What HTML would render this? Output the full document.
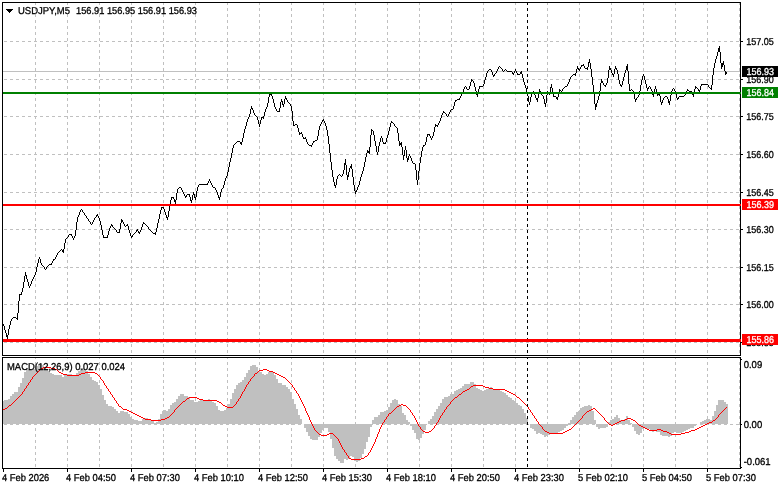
<!DOCTYPE html>
<html><head><meta charset="utf-8"><title>USDJPY,M5</title>
<style>html,body{margin:0;padding:0;background:#fff;overflow:hidden}body{width:781px;height:489px}</style>
</head><body>
<svg width="781" height="489" viewBox="0 0 781 489" style="display:block">
<rect x="0" y="0" width="781" height="489" fill="#fff"/>
<g stroke="#c0c0c0" stroke-width="1" stroke-dasharray="3 3" shape-rendering="crispEdges" fill="none">
<line x1="35.5" y1="2" x2="35.5" y2="468"/>
<line x1="67.5" y1="2" x2="67.5" y2="468"/>
<line x1="99.5" y1="2" x2="99.5" y2="468"/>
<line x1="131.5" y1="2" x2="131.5" y2="468"/>
<line x1="163.5" y1="2" x2="163.5" y2="468"/>
<line x1="195.5" y1="2" x2="195.5" y2="468"/>
<line x1="227.5" y1="2" x2="227.5" y2="468"/>
<line x1="259.5" y1="2" x2="259.5" y2="468"/>
<line x1="291.5" y1="2" x2="291.5" y2="468"/>
<line x1="323.5" y1="2" x2="323.5" y2="468"/>
<line x1="355.5" y1="2" x2="355.5" y2="468"/>
<line x1="387.5" y1="2" x2="387.5" y2="468"/>
<line x1="419.5" y1="2" x2="419.5" y2="468"/>
<line x1="451.5" y1="2" x2="451.5" y2="468"/>
<line x1="483.5" y1="2" x2="483.5" y2="468"/>
<line x1="515.5" y1="2" x2="515.5" y2="468"/>
<line x1="547.5" y1="2" x2="547.5" y2="468"/>
<line x1="579.5" y1="2" x2="579.5" y2="468"/>
<line x1="611.5" y1="2" x2="611.5" y2="468"/>
<line x1="643.5" y1="2" x2="643.5" y2="468"/>
<line x1="675.5" y1="2" x2="675.5" y2="468"/>
<line x1="707.5" y1="2" x2="707.5" y2="468"/>
<line x1="739.5" y1="2" x2="739.5" y2="468"/>
<line x1="4" y1="41.5" x2="740" y2="41.5"/>
<line x1="4" y1="79.5" x2="740" y2="79.5"/>
<line x1="4" y1="116.5" x2="740" y2="116.5"/>
<line x1="4" y1="154.5" x2="740" y2="154.5"/>
<line x1="4" y1="192.5" x2="740" y2="192.5"/>
<line x1="4" y1="229.5" x2="740" y2="229.5"/>
<line x1="4" y1="267.5" x2="740" y2="267.5"/>
<line x1="4" y1="304.5" x2="740" y2="304.5"/>
<line x1="4" y1="342.5" x2="740" y2="342.5"/>
<line x1="4" y1="424.5" x2="740" y2="424.5"/>
</g>
<g fill="#c0c0c0" shape-rendering="crispEdges">
<path d="M3 401H4V424H3zM4 400H6V424H4zM6 400H8V424H6zM8 399H10V424H8zM10 396H12V424H10zM12 394H14V424H12zM14 392H16V424H14zM16 392H18V424H16zM18 387H20V424H18zM20 383H22V424H20zM22 378H24V424H22zM24 372H26V424H24zM26 369H28V424H26zM28 370H30V424H28zM30 370H32V424H30zM32 369H34V424H32zM34 369H36V424H34zM36 366H38V424H36zM38 364H40V424H38zM40 364H42V424H40zM42 365H44V424H42zM44 368H46V424H44zM46 369H48V424H46zM48 371H50V424H48zM50 373H52V424H50zM52 374H54V424H52zM54 375H56V424H54zM56 375H58V424H56zM58 375H60V424H58zM60 375H62V424H60zM62 377H64V424H62zM64 375H66V424H64zM66 374H68V424H66zM68 374H70V424H68zM70 374H72V424H70zM72 375H74V424H72zM74 376H76V424H74zM76 373H78V424H76zM78 371H80V424H78zM80 368H82V424H80zM82 368H84V424H82zM84 369H86V424H84zM86 371H88V424H86zM88 374H90V424H88zM90 377H92V424H90zM92 380H94V424H92zM94 381H96V424H94zM96 382H98V424H96zM98 385H100V424H98zM100 389H102V424H100zM102 395H104V424H102zM104 400H106V424H104zM106 404H108V424H106zM108 406H110V424H108zM110 406H112V424H110zM112 407H114V424H112zM114 409H116V424H114zM116 411H118V424H116zM118 413H120V424H118zM120 411H122V424H120zM122 411H124V424H122zM124 412H126V424H124zM126 412H128V424H126zM128 414H130V424H128zM130 417H132V424H130zM132 419H134V424H132zM134 420H136V424H134zM136 420H138V424H136zM138 421H140V424H138zM140 421H142V424H140zM142 419H144V424H142zM144 418H146V424H144zM146 418H148V424H146zM148 419H150V424H148zM150 420H152V424H150zM152 421H154V424H152zM154 423H156V424H154zM156 422H158V424H156zM158 419H160V424H158zM160 414H162V424H160zM162 411H164V424H162zM164 410H166V424H164zM166 411H168V424H166zM168 409H170V424H168zM170 405H172V424H170zM172 403H174V424H172zM174 402H176V424H174zM176 399H178V424H176zM178 396H180V424H178zM180 394H182V424H180zM182 394H184V424H182zM184 396H186V424H184zM186 396H188V424H186zM188 397H190V424H188zM190 400H192V424H190zM192 400H194V424H192zM194 402H196V424H194zM196 402H198V424H196zM198 401H200V424H198zM200 400H202V424H200zM202 400H204V424H202zM204 400H206V424H204zM206 400H208V424H206zM208 399H210V424H208zM210 400H212V424H210zM212 402H214V424H212zM214 403H216V424H214zM216 406H218V424H216zM218 410H220V424H218zM220 411H222V424H220zM222 411H224V424H222zM224 410H226V424H224zM226 408H228V424H226zM228 404H230V424H228zM230 399H232V424H230zM232 393H234V424H232zM234 389H236V424H234zM236 385H238V424H236zM238 383H240V424H238zM240 382H242V424H240zM242 380H244V424H242zM244 377H246V424H244zM246 373H248V424H246zM248 370H250V424H248zM250 366H252V424H250zM252 365H254V424H252zM254 365H256V424H254zM256 367H258V424H256zM258 371H260V424H258zM260 372H262V424H260zM262 374H264V424H262zM264 375H266V424H264zM266 374H268V424H266zM268 372H270V424H268zM270 371H272V424H270zM272 372H274V424H272zM274 375H276V424H274zM276 379H278V424H276zM278 383H280V424H278zM280 383H282V424H280zM282 385H284V424H282zM284 385H286V424H284zM286 387H288V424H286zM288 389H290V424H288zM290 392H292V424H290zM292 399H294V424H292zM294 404H296V424H294zM296 409H298V424H296zM298 415H300V424H298zM300 419H302V424H300zM304 424H306V428H304zM306 424H308V432H306zM308 424H310V436H308zM310 424H312V439H310zM312 424H314V440H312zM314 424H316V440H314zM316 424H318V440H316zM318 424H320V437H318zM320 424H322V433H320zM322 424H324V430H322zM324 424H326V428H324zM326 424H328V428H326zM328 424H330V432H328zM330 424H332V439H330zM332 424H334V448H332zM334 424H336V456H334zM336 424H338V459H336zM338 424H340V461H338zM340 424H342V463H340zM342 424H344V463H342zM344 424H346V459H344zM346 424H348V460H346zM348 424H350V459H348zM350 424H352V456H350zM352 424H354V457H352zM354 424H356V461H354zM356 424H358V462H356zM358 424H360V461H358zM360 424H362V458H360zM362 424H364V454H362zM364 424H366V449H364zM366 424H368V442H366zM368 424H370V437H368zM370 424H372V427H370zM372 420H374V424H372zM374 417H376V424H374zM376 417H378V424H376zM378 415H380V424H378zM380 412H382V424H380zM382 412H384V424H382zM384 411H386V424H384zM386 410H388V424H386zM388 407H390V424H388zM390 403H392V424H390zM392 400H394V424H392zM394 399H396V424H394zM396 400H398V424H396zM398 404H400V424H398zM400 406H402V424H400zM402 413H404V424H402zM404 415H406V424H404zM406 420H408V424H406zM408 422H410V424H408zM410 424H412V426H410zM412 424H414V430H412zM414 424H416V433H414zM416 424H418V439H416zM418 424H420V440H418zM420 424H422V438H420zM422 424H424V434H422zM424 424H426V430H424zM428 421H430V424H428zM430 419H432V424H430zM432 416H434V424H432zM434 412H436V424H434zM436 409H438V424H436zM438 406H440V424H438zM440 403H442V424H440zM442 399H444V424H442zM444 397H446V424H444zM446 397H448V424H446zM448 396H450V424H448zM450 394H452V424H450zM452 394H454V424H452zM454 391H456V424H454zM456 390H458V424H456zM458 389H460V424H458zM460 388H462V424H460zM462 386H464V424H462zM464 384H466V424H464zM466 384H468V424H466zM468 384H470V424H468zM470 382H472V424H470zM472 382H474V424H472zM474 384H476V424H474zM476 388H478V424H476zM478 389H480V424H478zM480 390H482V424H480zM482 391H484V424H482zM484 390H486V424H484zM486 389H488V424H486zM488 388H490V424H488zM490 387H492V424H490zM492 389H494V424H492zM494 390H496V424H494zM496 390H498V424H496zM498 390H500V424H498zM500 391H502V424H500zM502 392H504V424H502zM504 393H506V424H504zM506 395H508V424H506zM508 397H510V424H508zM510 398H512V424H510zM512 400H514V424H512zM514 401H516V424H514zM516 403H518V424H516zM518 405H520V424H518zM520 406H522V424H520zM522 409H524V424H522zM524 413H526V424H524zM526 418H528V424H526zM530 424H532V428H530zM532 424H534V429H532zM534 424H536V431H534zM536 424H538V434H536zM538 424H540V433H538zM540 424H542V434H540zM542 424H544V435H542zM544 424H546V437H544zM546 424H548V436H546zM548 424H550V435H548zM550 424H552V433H550zM552 424H554V433H552zM554 424H556V433H554zM556 424H558V434H556zM558 424H560V432H558zM560 424H562V431H560zM562 424H564V430H562zM564 424H566V428H564zM566 424H568V426H566zM568 423H570V424H568zM570 420H572V424H570zM572 417H574V424H572zM574 415H576V424H574zM576 412H578V424H576zM578 411H580V424H578zM580 408H582V424H580zM582 407H584V424H582zM584 406H586V424H584zM586 406H588V424H586zM588 405H590V424H588zM590 406H592V424H590zM592 411H594V424H592zM594 420H596V424H594zM596 424H598V427H596zM598 424H600V429H598zM600 424H602V428H600zM602 424H604V428H602zM604 424H606V428H604zM606 424H608V427H606zM608 422H610V424H608zM610 420H612V424H610zM612 419H614V424H612zM614 417H616V424H614zM616 415H618V424H616zM618 418H620V424H618zM620 420H622V424H620zM622 421H624V424H622zM624 419H626V424H624zM626 416H628V424H626zM628 420H630V424H628zM630 423H632V424H630zM632 424H634V427H632zM634 424H636V431H634zM636 424H638V434H636zM638 424H640V435H638zM640 424H642V433H640zM642 424H644V429H642zM644 424H646V428H644zM646 424H648V429H646zM648 424H650V429H648zM650 424H652V430H650zM652 424H654V432H652zM654 424H656V431H654zM656 424H658V432H656zM658 424H660V432H658zM660 424H662V435H660zM662 424H664V436H662zM664 424H666V436H664zM666 424H668V436H666zM668 424H670V437H668zM670 424H672V436H670zM672 424H674V433H672zM674 424H676V432H674zM676 424H678V433H676zM678 424H680V433H678zM680 424H682V433H680zM682 424H684V432H682zM684 424H686V431H684zM686 424H688V430H686zM688 424H690V429H688zM690 424H692V428H690zM692 424H694V428H692zM694 424H696V426H694zM700 422H702V424H700zM702 421H704V424H702zM704 420H706V424H704zM706 419H708V424H706zM708 419H710V424H708zM710 420H712V424H710zM712 416H714V424H712zM714 411H716V424H714zM716 405H718V424H716zM718 400H720V424H718zM720 400H722V424H720zM722 400H724V424H722zM724 402H726V424H724zM726 404H728V424H726z"/>
</g>
<path d="M3 409h1v1h-1zM4 409h1v1h-1zM5 408h1v1h-1zM6 408h1v1h-1zM7 407h1v1h-1zM8 406h1v1h-1zM9 405h1v1h-1zM10 405h1v1h-1zM11 404h1v1h-1zM12 403h1v1h-1zM13 402h1v1h-1zM14 401h1v1h-1zM15 400h1v1h-1zM16 399h1v1h-1zM17 398h1v1h-1zM18 397h1v1h-1zM19 396h1v1h-1zM20 395h1v1h-1zM21 394h1v1h-1zM22 392h1v2h-1zM23 391h1v1h-1zM24 389h1v2h-1zM25 388h1v1h-1zM26 386h1v2h-1zM27 385h1v1h-1zM28 383h1v2h-1zM29 382h1v1h-1zM30 380h1v2h-1zM31 379h1v1h-1zM32 377h1v2h-1zM33 376h1v1h-1zM34 375h1v1h-1zM35 374h1v1h-1zM36 373h1v1h-1zM37 372h1v1h-1zM38 371h1v1h-1zM39 370h1v1h-1zM40 369h1v1h-1zM41 368h1v1h-1zM42 368h1v1h-1zM43 367h1v1h-1zM44 367h1v1h-1zM45 367h1v1h-1zM46 367h1v1h-1zM47 367h1v1h-1zM48 367h1v1h-1zM49 367h1v1h-1zM50 367h1v1h-1zM51 368h1v1h-1zM52 368h1v1h-1zM53 368h1v1h-1zM54 368h1v1h-1zM55 369h1v1h-1zM56 369h1v1h-1zM57 370h1v1h-1zM58 371h1v1h-1zM59 372h1v1h-1zM60 372h1v1h-1zM61 373h1v1h-1zM62 373h1v1h-1zM63 374h1v1h-1zM64 374h1v1h-1zM65 374h1v1h-1zM66 374h1v1h-1zM67 375h1v1h-1zM68 375h1v1h-1zM69 375h1v1h-1zM70 375h1v1h-1zM71 375h1v1h-1zM72 375h1v1h-1zM73 375h1v1h-1zM74 375h1v1h-1zM75 375h1v1h-1zM76 375h1v1h-1zM77 375h1v1h-1zM78 375h1v1h-1zM79 374h1v1h-1zM80 374h1v1h-1zM81 373h1v1h-1zM82 373h1v1h-1zM83 373h1v1h-1zM84 373h1v1h-1zM85 372h1v1h-1zM86 372h1v1h-1zM87 372h1v1h-1zM88 372h1v1h-1zM89 372h1v1h-1zM90 372h1v1h-1zM91 372h1v1h-1zM92 372h1v1h-1zM93 372h1v1h-1zM94 372h1v1h-1zM95 373h1v1h-1zM96 373h1v1h-1zM97 374h1v1h-1zM98 375h1v1h-1zM99 376h1v1h-1zM100 377h1v2h-1zM101 379h1v1h-1zM102 380h1v1h-1zM103 381h1v2h-1zM104 383h1v2h-1zM105 385h1v1h-1zM106 386h1v2h-1zM107 388h1v1h-1zM108 389h1v2h-1zM109 391h1v1h-1zM110 392h1v2h-1zM111 394h1v1h-1zM112 395h1v2h-1zM113 397h1v1h-1zM114 398h1v2h-1zM115 400h1v1h-1zM116 401h1v2h-1zM117 403h1v1h-1zM118 404h1v2h-1zM119 406h1v1h-1zM120 406h1v1h-1zM121 407h1v1h-1zM122 408h1v1h-1zM123 409h1v1h-1zM124 409h1v1h-1zM125 409h1v1h-1zM126 409h1v1h-1zM127 410h1v1h-1zM128 410h1v1h-1zM129 411h1v1h-1zM130 411h1v1h-1zM131 412h1v1h-1zM132 412h1v1h-1zM133 413h1v1h-1zM134 413h1v1h-1zM135 414h1v1h-1zM136 414h1v1h-1zM137 415h1v1h-1zM138 415h1v1h-1zM139 416h1v1h-1zM140 416h1v1h-1zM141 417h1v1h-1zM142 417h1v1h-1zM143 418h1v1h-1zM144 418h1v1h-1zM145 419h1v1h-1zM146 419h1v1h-1zM147 419h1v1h-1zM148 419h1v1h-1zM149 419h1v1h-1zM150 419h1v1h-1zM151 420h1v1h-1zM152 420h1v1h-1zM153 420h1v1h-1zM154 420h1v1h-1zM155 420h1v1h-1zM156 420h1v1h-1zM157 420h1v1h-1zM158 420h1v1h-1zM159 420h1v1h-1zM160 420h1v1h-1zM161 419h1v1h-1zM162 419h1v1h-1zM163 419h1v1h-1zM164 419h1v1h-1zM165 418h1v1h-1zM166 418h1v1h-1zM167 417h1v1h-1zM168 417h1v1h-1zM169 416h1v1h-1zM170 415h1v1h-1zM171 414h1v1h-1zM172 413h1v1h-1zM173 412h1v1h-1zM174 410h1v2h-1zM175 409h1v1h-1zM176 408h1v1h-1zM177 407h1v1h-1zM178 406h1v1h-1zM179 405h1v1h-1zM180 404h1v1h-1zM181 403h1v1h-1zM182 402h1v1h-1zM183 401h1v1h-1zM184 401h1v1h-1zM185 400h1v1h-1zM186 399h1v1h-1zM187 398h1v1h-1zM188 398h1v1h-1zM189 397h1v1h-1zM190 397h1v1h-1zM191 397h1v1h-1zM192 397h1v1h-1zM193 397h1v1h-1zM194 397h1v1h-1zM195 397h1v1h-1zM196 397h1v1h-1zM197 398h1v1h-1zM198 398h1v1h-1zM199 399h1v1h-1zM200 399h1v1h-1zM201 399h1v1h-1zM202 399h1v1h-1zM203 400h1v1h-1zM204 400h1v1h-1zM205 400h1v1h-1zM206 400h1v1h-1zM207 400h1v1h-1zM208 400h1v1h-1zM209 400h1v1h-1zM210 400h1v1h-1zM211 400h1v1h-1zM212 400h1v1h-1zM213 400h1v1h-1zM214 400h1v1h-1zM215 400h1v1h-1zM216 400h1v1h-1zM217 401h1v1h-1zM218 401h1v1h-1zM219 402h1v1h-1zM220 402h1v1h-1zM221 403h1v1h-1zM222 404h1v1h-1zM223 405h1v1h-1zM224 405h1v1h-1zM225 406h1v1h-1zM226 406h1v1h-1zM227 407h1v1h-1zM228 407h1v1h-1zM229 407h1v1h-1zM230 407h1v1h-1zM231 407h1v1h-1zM232 407h1v1h-1zM233 406h1v1h-1zM234 405h1v1h-1zM235 404h1v1h-1zM236 402h1v2h-1zM237 401h1v1h-1zM238 399h1v2h-1zM239 398h1v1h-1zM240 396h1v2h-1zM241 394h1v2h-1zM242 392h1v2h-1zM243 391h1v1h-1zM244 389h1v2h-1zM245 387h1v2h-1zM246 385h1v2h-1zM247 384h1v1h-1zM248 382h1v2h-1zM249 381h1v1h-1zM250 379h1v2h-1zM251 378h1v1h-1zM252 377h1v1h-1zM253 376h1v1h-1zM254 374h1v2h-1zM255 373h1v1h-1zM256 373h1v1h-1zM257 372h1v1h-1zM258 371h1v1h-1zM259 370h1v1h-1zM260 370h1v1h-1zM261 370h1v1h-1zM262 370h1v1h-1zM263 369h1v1h-1zM264 369h1v1h-1zM265 369h1v1h-1zM266 369h1v1h-1zM267 370h1v1h-1zM268 370h1v1h-1zM269 371h1v1h-1zM270 371h1v1h-1zM271 371h1v1h-1zM272 371h1v1h-1zM273 372h1v1h-1zM274 372h1v1h-1zM275 373h1v1h-1zM276 373h1v1h-1zM277 374h1v1h-1zM278 374h1v1h-1zM279 375h1v1h-1zM280 375h1v1h-1zM281 376h1v1h-1zM282 376h1v1h-1zM283 377h1v1h-1zM284 377h1v1h-1zM285 378h1v1h-1zM286 379h1v1h-1zM287 380h1v1h-1zM288 381h1v1h-1zM289 382h1v1h-1zM290 383h1v1h-1zM291 384h1v1h-1zM292 385h1v2h-1zM293 387h1v1h-1zM294 388h1v2h-1zM295 390h1v1h-1zM296 391h1v2h-1zM297 393h1v1h-1zM298 394h1v2h-1zM299 396h1v2h-1zM300 398h1v2h-1zM301 400h1v2h-1zM302 402h1v2h-1zM303 404h1v2h-1zM304 406h1v2h-1zM305 408h1v3h-1zM306 411h1v2h-1zM307 413h1v2h-1zM308 415h1v2h-1zM309 417h1v3h-1zM310 420h1v2h-1zM311 422h1v2h-1zM312 424h1v2h-1zM313 426h1v2h-1zM314 428h1v2h-1zM315 430h1v1h-1zM316 431h1v1h-1zM317 432h1v1h-1zM318 433h1v1h-1zM319 434h1v1h-1zM320 434h1v1h-1zM321 435h1v1h-1zM322 435h1v1h-1zM323 435h1v1h-1zM324 435h1v1h-1zM325 435h1v1h-1zM326 435h1v1h-1zM327 434h1v1h-1zM328 434h1v1h-1zM329 433h1v1h-1zM330 433h1v1h-1zM331 433h1v1h-1zM332 433h1v1h-1zM333 434h1v1h-1zM334 435h1v1h-1zM335 436h1v1h-1zM336 437h1v1h-1zM337 438h1v1h-1zM338 439h1v2h-1zM339 441h1v2h-1zM340 443h1v2h-1zM341 445h1v2h-1zM342 447h1v2h-1zM343 449h1v1h-1zM344 450h1v2h-1zM345 452h1v1h-1zM346 453h1v2h-1zM347 455h1v1h-1zM348 456h1v2h-1zM349 458h1v1h-1zM350 458h1v1h-1zM351 459h1v1h-1zM352 459h1v1h-1zM353 459h1v1h-1zM354 459h1v1h-1zM355 459h1v1h-1zM356 459h1v1h-1zM357 459h1v1h-1zM358 459h1v1h-1zM359 459h1v1h-1zM360 459h1v1h-1zM361 458h1v1h-1zM362 458h1v1h-1zM363 458h1v1h-1zM364 457h1v1h-1zM365 456h1v1h-1zM366 456h1v1h-1zM367 455h1v1h-1zM368 453h1v2h-1zM369 452h1v1h-1zM370 450h1v2h-1zM371 448h1v2h-1zM372 446h1v2h-1zM373 444h1v2h-1zM374 442h1v2h-1zM375 439h1v3h-1zM376 437h1v2h-1zM377 434h1v3h-1zM378 432h1v2h-1zM379 429h1v3h-1zM380 427h1v2h-1zM381 425h1v2h-1zM382 423h1v2h-1zM383 422h1v1h-1zM384 420h1v2h-1zM385 419h1v1h-1zM386 417h1v2h-1zM387 416h1v1h-1zM388 414h1v2h-1zM389 413h1v1h-1zM390 413h1v1h-1zM391 412h1v1h-1zM392 411h1v1h-1zM393 410h1v1h-1zM394 409h1v1h-1zM395 408h1v1h-1zM396 407h1v1h-1zM397 406h1v1h-1zM398 406h1v1h-1zM399 405h1v1h-1zM400 405h1v1h-1zM401 404h1v1h-1zM402 404h1v1h-1zM403 405h1v1h-1zM404 405h1v1h-1zM405 405h1v1h-1zM406 406h1v1h-1zM407 407h1v1h-1zM408 408h1v1h-1zM409 409h1v1h-1zM410 410h1v2h-1zM411 412h1v1h-1zM412 413h1v2h-1zM413 415h1v1h-1zM414 416h1v2h-1zM415 418h1v2h-1zM416 420h1v2h-1zM417 422h1v2h-1zM418 424h1v2h-1zM419 426h1v1h-1zM420 427h1v2h-1zM421 429h1v1h-1zM422 430h1v1h-1zM423 431h1v1h-1zM424 431h1v1h-1zM425 432h1v1h-1zM426 432h1v1h-1zM427 432h1v1h-1zM428 432h1v1h-1zM429 431h1v1h-1zM430 431h1v1h-1zM431 430h1v1h-1zM432 429h1v1h-1zM433 428h1v1h-1zM434 426h1v2h-1zM435 425h1v1h-1zM436 423h1v2h-1zM437 422h1v1h-1zM438 420h1v2h-1zM439 418h1v2h-1zM440 416h1v2h-1zM441 415h1v1h-1zM442 413h1v2h-1zM443 412h1v1h-1zM444 410h1v2h-1zM445 409h1v1h-1zM446 407h1v2h-1zM447 406h1v1h-1zM448 405h1v1h-1zM449 404h1v1h-1zM450 402h1v2h-1zM451 401h1v1h-1zM452 400h1v1h-1zM453 399h1v1h-1zM454 398h1v1h-1zM455 397h1v1h-1zM456 397h1v1h-1zM457 396h1v1h-1zM458 395h1v1h-1zM459 394h1v1h-1zM460 394h1v1h-1zM461 393h1v1h-1zM462 392h1v1h-1zM463 391h1v1h-1zM464 391h1v1h-1zM465 390h1v1h-1zM466 390h1v1h-1zM467 389h1v1h-1zM468 389h1v1h-1zM469 388h1v1h-1zM470 387h1v1h-1zM471 386h1v1h-1zM472 386h1v1h-1zM473 385h1v1h-1zM474 385h1v1h-1zM475 385h1v1h-1zM476 385h1v1h-1zM477 385h1v1h-1zM478 385h1v1h-1zM479 385h1v1h-1zM480 385h1v1h-1zM481 385h1v1h-1zM482 385h1v1h-1zM483 386h1v1h-1zM484 386h1v1h-1zM485 387h1v1h-1zM486 387h1v1h-1zM487 387h1v1h-1zM488 387h1v1h-1zM489 388h1v1h-1zM490 388h1v1h-1zM491 388h1v1h-1zM492 388h1v1h-1zM493 389h1v1h-1zM494 389h1v1h-1zM495 389h1v1h-1zM496 389h1v1h-1zM497 389h1v1h-1zM498 389h1v1h-1zM499 389h1v1h-1zM500 389h1v1h-1zM501 389h1v1h-1zM502 389h1v1h-1zM503 389h1v1h-1zM504 389h1v1h-1zM505 390h1v1h-1zM506 390h1v1h-1zM507 391h1v1h-1zM508 391h1v1h-1zM509 392h1v1h-1zM510 392h1v1h-1zM511 393h1v1h-1zM512 393h1v1h-1zM513 394h1v1h-1zM514 394h1v1h-1zM515 395h1v1h-1zM516 396h1v1h-1zM517 397h1v1h-1zM518 397h1v1h-1zM519 398h1v1h-1zM520 399h1v1h-1zM521 400h1v1h-1zM522 401h1v1h-1zM523 402h1v1h-1zM524 403h1v1h-1zM525 404h1v1h-1zM526 405h1v1h-1zM527 406h1v1h-1zM528 407h1v2h-1zM529 409h1v1h-1zM530 410h1v2h-1zM531 412h1v1h-1zM532 413h1v2h-1zM533 415h1v1h-1zM534 416h1v2h-1zM535 418h1v1h-1zM536 419h1v2h-1zM537 421h1v1h-1zM538 422h1v2h-1zM539 424h1v1h-1zM540 425h1v1h-1zM541 426h1v1h-1zM542 427h1v2h-1zM543 429h1v1h-1zM544 430h1v1h-1zM545 431h1v1h-1zM546 431h1v1h-1zM547 432h1v1h-1zM548 432h1v1h-1zM549 433h1v1h-1zM550 433h1v1h-1zM551 433h1v1h-1zM552 433h1v1h-1zM553 433h1v1h-1zM554 433h1v1h-1zM555 433h1v1h-1zM556 433h1v1h-1zM557 433h1v1h-1zM558 433h1v1h-1zM559 433h1v1h-1zM560 433h1v1h-1zM561 433h1v1h-1zM562 433h1v1h-1zM563 432h1v1h-1zM564 432h1v1h-1zM565 431h1v1h-1zM566 431h1v1h-1zM567 430h1v1h-1zM568 430h1v1h-1zM569 429h1v1h-1zM570 429h1v1h-1zM571 428h1v1h-1zM572 427h1v1h-1zM573 426h1v1h-1zM574 425h1v1h-1zM575 424h1v1h-1zM576 423h1v1h-1zM577 422h1v1h-1zM578 421h1v1h-1zM579 420h1v1h-1zM580 419h1v1h-1zM581 418h1v1h-1zM582 416h1v2h-1zM583 415h1v1h-1zM584 414h1v1h-1zM585 413h1v1h-1zM586 412h1v1h-1zM587 411h1v1h-1zM588 411h1v1h-1zM589 410h1v1h-1zM590 410h1v1h-1zM591 409h1v1h-1zM592 409h1v1h-1zM593 408h1v1h-1zM594 408h1v1h-1zM595 409h1v1h-1zM596 410h1v1h-1zM597 411h1v1h-1zM598 412h1v1h-1zM599 413h1v1h-1zM600 414h1v1h-1zM601 415h1v1h-1zM602 416h1v1h-1zM603 417h1v1h-1zM604 418h1v2h-1zM605 420h1v1h-1zM606 421h1v1h-1zM607 422h1v1h-1zM608 423h1v1h-1zM609 424h1v1h-1zM610 424h1v1h-1zM611 425h1v1h-1zM612 425h1v1h-1zM613 424h1v1h-1zM614 424h1v1h-1zM615 423h1v1h-1zM616 423h1v1h-1zM617 422h1v1h-1zM618 422h1v1h-1zM619 421h1v1h-1zM620 421h1v1h-1zM621 420h1v1h-1zM622 420h1v1h-1zM623 420h1v1h-1zM624 420h1v1h-1zM625 419h1v1h-1zM626 419h1v1h-1zM627 418h1v1h-1zM628 418h1v1h-1zM629 418h1v1h-1zM630 418h1v1h-1zM631 419h1v1h-1zM632 419h1v1h-1zM633 420h1v1h-1zM634 420h1v1h-1zM635 421h1v1h-1zM636 422h1v1h-1zM637 423h1v1h-1zM638 424h1v1h-1zM639 425h1v1h-1zM640 425h1v1h-1zM641 426h1v1h-1zM642 426h1v1h-1zM643 427h1v1h-1zM644 427h1v1h-1zM645 428h1v1h-1zM646 428h1v1h-1zM647 429h1v1h-1zM648 429h1v1h-1zM649 430h1v1h-1zM650 430h1v1h-1zM651 430h1v1h-1zM652 430h1v1h-1zM653 430h1v1h-1zM654 430h1v1h-1zM655 430h1v1h-1zM656 430h1v1h-1zM657 429h1v1h-1zM658 429h1v1h-1zM659 429h1v1h-1zM660 429h1v1h-1zM661 430h1v1h-1zM662 430h1v1h-1zM663 431h1v1h-1zM664 431h1v1h-1zM665 431h1v1h-1zM666 431h1v1h-1zM667 432h1v1h-1zM668 432h1v1h-1zM669 433h1v1h-1zM670 433h1v1h-1zM671 434h1v1h-1zM672 434h1v1h-1zM673 434h1v1h-1zM674 434h1v1h-1zM675 434h1v1h-1zM676 434h1v1h-1zM677 434h1v1h-1zM678 434h1v1h-1zM679 434h1v1h-1zM680 434h1v1h-1zM681 433h1v1h-1zM682 433h1v1h-1zM683 433h1v1h-1zM684 433h1v1h-1zM685 432h1v1h-1zM686 432h1v1h-1zM687 432h1v1h-1zM688 432h1v1h-1zM689 431h1v1h-1zM690 431h1v1h-1zM691 430h1v1h-1zM692 430h1v1h-1zM693 430h1v1h-1zM694 430h1v1h-1zM695 429h1v1h-1zM696 429h1v1h-1zM697 428h1v1h-1zM698 428h1v1h-1zM699 427h1v1h-1zM700 427h1v1h-1zM701 426h1v1h-1zM702 426h1v1h-1zM703 425h1v1h-1zM704 425h1v1h-1zM705 424h1v1h-1zM706 424h1v1h-1zM707 423h1v1h-1zM708 423h1v1h-1zM709 422h1v1h-1zM710 422h1v1h-1zM711 422h1v1h-1zM712 421h1v1h-1zM713 420h1v1h-1zM714 420h1v1h-1zM715 419h1v1h-1zM716 418h1v1h-1zM717 417h1v1h-1zM718 415h1v2h-1zM719 414h1v1h-1zM720 413h1v1h-1zM721 412h1v1h-1zM722 411h1v1h-1zM723 410h1v1h-1zM724 409h1v1h-1zM725 408h1v1h-1zM726 407h1v1h-1z" fill="#ff0000" shape-rendering="crispEdges"/>
<rect x="3" y="71" width="737" height="1" fill="#c0c0c0" shape-rendering="crispEdges"/>
<path d="M3 324h1v2h-1zM4 326h1v4h-1zM5 330h1v3h-1zM6 333h1v4h-1zM7 335h1v4h-1zM8 329h1v6h-1zM9 325h1v4h-1zM10 321h1v4h-1zM11 319h1v2h-1zM12 318h1v1h-1zM13 317h1v1h-1zM14 317h1v1h-1zM15 317h1v1h-1zM16 318h1v1h-1zM17 313h1v7h-1zM18 301h1v12h-1zM19 294h1v7h-1zM20 294h1v1h-1zM21 292h1v3h-1zM22 288h1v4h-1zM23 282h1v6h-1zM24 276h1v6h-1zM25 272h1v4h-1zM26 275h1v4h-1zM27 279h1v3h-1zM28 282h1v4h-1zM29 286h1v2h-1zM30 284h1v2h-1zM31 281h1v3h-1zM32 279h1v2h-1zM33 277h1v2h-1zM34 275h1v2h-1zM35 272h1v3h-1zM36 267h1v5h-1zM37 263h1v4h-1zM38 259h1v4h-1zM39 257h1v2h-1zM40 259h1v4h-1zM41 263h1v2h-1zM42 265h1v1h-1zM43 266h1v1h-1zM44 267h1v2h-1zM45 269h1v1h-1zM46 267h1v2h-1zM47 266h1v1h-1zM48 265h1v1h-1zM49 264h1v1h-1zM50 264h1v1h-1zM51 263h1v2h-1zM52 261h1v2h-1zM53 259h1v2h-1zM54 259h1v1h-1zM55 257h1v2h-1zM56 255h1v2h-1zM57 253h1v2h-1zM58 252h1v1h-1zM59 251h1v1h-1zM60 250h1v1h-1zM61 249h1v1h-1zM62 250h1v2h-1zM63 249h1v4h-1zM64 243h1v6h-1zM65 239h1v4h-1zM66 238h1v1h-1zM67 237h1v1h-1zM68 235h1v2h-1zM69 234h1v1h-1zM70 234h1v1h-1zM71 234h1v2h-1zM72 236h1v2h-1zM73 238h1v2h-1zM74 236h1v2h-1zM75 230h1v6h-1zM76 222h1v8h-1zM77 217h1v5h-1zM78 215h1v2h-1zM79 212h1v3h-1zM80 210h1v2h-1zM81 209h1v1h-1zM82 210h1v2h-1zM83 212h1v1h-1zM84 213h1v2h-1zM85 215h1v1h-1zM86 216h1v2h-1zM87 218h1v1h-1zM88 219h1v2h-1zM89 221h1v1h-1zM90 222h1v2h-1zM91 224h1v1h-1zM92 222h1v2h-1zM93 220h1v2h-1zM94 218h1v2h-1zM95 217h1v1h-1zM96 215h1v2h-1zM97 214h1v2h-1zM98 216h1v2h-1zM99 218h1v3h-1zM100 221h1v4h-1zM101 225h1v5h-1zM102 230h1v5h-1zM103 235h1v3h-1zM104 237h1v1h-1zM105 237h1v1h-1zM106 237h1v1h-1zM107 235h1v3h-1zM108 231h1v4h-1zM109 228h1v3h-1zM110 226h1v2h-1zM111 224h1v2h-1zM112 225h1v2h-1zM113 227h1v1h-1zM114 228h1v1h-1zM115 229h1v1h-1zM116 230h1v2h-1zM117 232h1v1h-1zM118 232h1v1h-1zM119 229h1v4h-1zM120 223h1v6h-1zM121 219h1v4h-1zM122 220h1v2h-1zM123 222h1v2h-1zM124 224h1v2h-1zM125 226h1v1h-1zM126 225h1v1h-1zM127 224h1v2h-1zM128 226h1v4h-1zM129 230h1v3h-1zM130 233h1v3h-1zM131 236h1v2h-1zM132 235h1v2h-1zM133 234h1v1h-1zM134 233h1v1h-1zM135 232h1v1h-1zM136 230h1v2h-1zM137 229h1v2h-1zM138 231h1v2h-1zM139 232h1v2h-1zM140 230h1v2h-1zM141 227h1v3h-1zM142 224h1v3h-1zM143 222h1v2h-1zM144 223h1v1h-1zM145 224h1v1h-1zM146 225h1v1h-1zM147 226h1v1h-1zM148 227h1v2h-1zM149 229h1v1h-1zM150 230h1v1h-1zM151 231h1v1h-1zM152 232h1v1h-1zM153 233h1v1h-1zM154 233h1v1h-1zM155 232h1v3h-1zM156 228h1v4h-1zM157 223h1v5h-1zM158 219h1v4h-1zM159 214h1v5h-1zM160 210h1v4h-1zM161 207h1v3h-1zM162 207h1v1h-1zM163 207h1v2h-1zM164 209h1v3h-1zM165 212h1v3h-1zM166 215h1v3h-1zM167 217h1v3h-1zM168 211h1v6h-1zM169 206h1v5h-1zM170 200h1v6h-1zM171 197h1v3h-1zM172 197h1v1h-1zM173 197h1v2h-1zM174 199h1v3h-1zM175 200h1v4h-1zM176 193h1v7h-1zM177 189h1v4h-1zM178 188h1v1h-1zM179 187h1v1h-1zM180 187h1v1h-1zM181 188h1v2h-1zM182 190h1v2h-1zM183 192h1v2h-1zM184 194h1v2h-1zM185 196h1v2h-1zM186 195h1v2h-1zM187 194h1v1h-1zM188 194h1v1h-1zM189 194h1v3h-1zM190 197h1v4h-1zM191 200h1v3h-1zM192 195h1v5h-1zM193 192h1v3h-1zM194 194h1v4h-1zM195 197h1v3h-1zM196 191h1v6h-1zM197 187h1v4h-1zM198 185h1v2h-1zM199 184h1v1h-1zM200 184h1v1h-1zM201 184h1v1h-1zM202 184h1v1h-1zM203 184h1v1h-1zM204 184h1v1h-1zM205 184h1v1h-1zM206 184h1v1h-1zM207 183h1v2h-1zM208 181h1v2h-1zM209 179h1v2h-1zM210 181h1v2h-1zM211 183h1v2h-1zM212 185h1v2h-1zM213 187h1v1h-1zM214 187h1v1h-1zM215 188h1v2h-1zM216 190h1v2h-1zM217 192h1v3h-1zM218 195h1v3h-1zM219 197h1v3h-1zM220 192h1v5h-1zM221 189h1v3h-1zM222 188h1v1h-1zM223 185h1v3h-1zM224 181h1v4h-1zM225 178h1v3h-1zM226 176h1v2h-1zM227 172h1v4h-1zM228 167h1v5h-1zM229 162h1v5h-1zM230 158h1v4h-1zM231 153h1v5h-1zM232 148h1v5h-1zM233 145h1v3h-1zM234 144h1v1h-1zM235 143h1v1h-1zM236 142h1v1h-1zM237 141h1v1h-1zM238 141h1v1h-1zM239 141h1v1h-1zM240 142h1v2h-1zM241 142h1v3h-1zM242 138h1v4h-1zM243 133h1v5h-1zM244 129h1v4h-1zM245 126h1v3h-1zM246 122h1v4h-1zM247 119h1v3h-1zM248 117h1v2h-1zM249 114h1v3h-1zM250 109h1v5h-1zM251 106h1v3h-1zM252 108h1v2h-1zM253 110h1v3h-1zM254 113h1v2h-1zM255 115h1v1h-1zM256 116h1v1h-1zM257 117h1v3h-1zM258 120h1v4h-1zM259 124h1v3h-1zM260 120h1v4h-1zM261 117h1v3h-1zM262 117h1v1h-1zM263 116h1v3h-1zM264 112h1v4h-1zM265 109h1v3h-1zM266 107h1v2h-1zM267 103h1v4h-1zM268 97h1v6h-1zM269 94h1v3h-1zM270 94h1v1h-1zM271 94h1v2h-1zM272 96h1v3h-1zM273 99h1v4h-1zM274 103h1v4h-1zM275 107h1v2h-1zM276 109h1v2h-1zM277 111h1v1h-1zM278 111h1v1h-1zM279 108h1v4h-1zM280 102h1v6h-1zM281 99h1v3h-1zM282 101h1v4h-1zM283 104h1v3h-1zM284 99h1v5h-1zM285 96h1v3h-1zM286 98h1v2h-1zM287 100h1v2h-1zM288 102h1v1h-1zM289 103h1v1h-1zM290 104h1v2h-1zM291 106h1v5h-1zM292 111h1v10h-1zM293 121h1v5h-1zM294 125h1v1h-1zM295 124h1v1h-1zM296 124h1v1h-1zM297 125h1v3h-1zM298 128h1v4h-1zM299 132h1v3h-1zM300 133h1v1h-1zM301 132h1v2h-1zM302 134h1v3h-1zM303 137h1v2h-1zM304 138h1v1h-1zM305 137h1v2h-1zM306 139h1v3h-1zM307 142h1v2h-1zM308 144h1v1h-1zM309 145h1v1h-1zM310 145h1v1h-1zM311 145h1v2h-1zM312 143h1v2h-1zM313 141h1v2h-1zM314 141h1v1h-1zM315 140h1v1h-1zM316 140h1v1h-1zM317 136h1v4h-1zM318 130h1v6h-1zM319 126h1v4h-1zM320 124h1v2h-1zM321 122h1v2h-1zM322 120h1v2h-1zM323 119h1v2h-1zM324 121h1v2h-1zM325 123h1v3h-1zM326 126h1v4h-1zM327 130h1v6h-1zM328 136h1v8h-1zM329 144h1v9h-1zM330 153h1v9h-1zM331 162h1v8h-1zM332 170h1v7h-1zM333 177h1v5h-1zM334 182h1v4h-1zM335 185h1v3h-1zM336 179h1v6h-1zM337 176h1v3h-1zM338 175h1v1h-1zM339 174h1v1h-1zM340 175h1v1h-1zM341 176h1v1h-1zM342 174h1v2h-1zM343 170h1v4h-1zM344 163h1v7h-1zM345 159h1v6h-1zM346 165h1v10h-1zM347 175h1v5h-1zM348 172h1v5h-1zM349 168h1v4h-1zM350 166h1v2h-1zM351 164h1v5h-1zM352 169h1v8h-1zM353 177h1v8h-1zM354 185h1v6h-1zM355 191h1v3h-1zM356 190h1v2h-1zM357 187h1v3h-1zM358 185h1v2h-1zM359 181h1v4h-1zM360 177h1v4h-1zM361 174h1v3h-1zM362 171h1v3h-1zM363 167h1v4h-1zM364 162h1v5h-1zM365 157h1v5h-1zM366 153h1v4h-1zM367 150h1v3h-1zM368 151h1v2h-1zM369 147h1v7h-1zM370 135h1v12h-1zM371 129h1v6h-1zM372 130h1v1h-1zM373 131h1v4h-1zM374 135h1v6h-1zM375 141h1v5h-1zM376 146h1v6h-1zM377 152h1v3h-1zM378 146h1v6h-1zM379 142h1v4h-1zM380 138h1v4h-1zM381 136h1v2h-1zM382 138h1v4h-1zM383 142h1v2h-1zM384 143h1v1h-1zM385 142h1v2h-1zM386 138h1v4h-1zM387 135h1v3h-1zM388 131h1v4h-1zM389 127h1v4h-1zM390 123h1v4h-1zM391 121h1v2h-1zM392 122h1v1h-1zM393 123h1v1h-1zM394 124h1v2h-1zM395 126h1v1h-1zM396 127h1v1h-1zM397 128h1v5h-1zM398 133h1v8h-1zM399 141h1v5h-1zM400 143h1v2h-1zM401 142h1v5h-1zM402 147h1v8h-1zM403 155h1v5h-1zM404 150h1v6h-1zM405 146h1v4h-1zM406 150h1v8h-1zM407 158h1v4h-1zM408 156h1v4h-1zM409 154h1v2h-1zM410 156h1v2h-1zM411 158h1v3h-1zM412 161h1v2h-1zM413 163h1v1h-1zM414 163h1v1h-1zM415 164h1v6h-1zM416 170h1v10h-1zM417 180h1v5h-1zM418 171h1v9h-1zM419 163h1v8h-1zM420 157h1v6h-1zM421 151h1v6h-1zM422 147h1v4h-1zM423 145h1v2h-1zM424 145h1v1h-1zM425 142h1v3h-1zM426 137h1v5h-1zM427 134h1v3h-1zM428 134h1v1h-1zM429 134h1v2h-1zM430 136h1v2h-1zM431 138h1v2h-1zM432 136h1v2h-1zM433 132h1v4h-1zM434 127h1v5h-1zM435 124h1v3h-1zM436 125h1v1h-1zM437 125h1v2h-1zM438 123h1v2h-1zM439 121h1v2h-1zM440 118h1v3h-1zM441 115h1v3h-1zM442 113h1v2h-1zM443 111h1v2h-1zM444 112h1v1h-1zM445 113h1v1h-1zM446 114h1v2h-1zM447 116h1v1h-1zM448 114h1v2h-1zM449 112h1v2h-1zM450 110h1v2h-1zM451 109h1v1h-1zM452 109h1v1h-1zM453 106h1v3h-1zM454 102h1v4h-1zM455 100h1v2h-1zM456 100h1v1h-1zM457 99h1v1h-1zM458 99h1v1h-1zM459 98h1v2h-1zM460 96h1v2h-1zM461 94h1v2h-1zM462 92h1v2h-1zM463 89h1v3h-1zM464 87h1v2h-1zM465 86h1v1h-1zM466 87h1v2h-1zM467 89h1v1h-1zM468 89h1v1h-1zM469 86h1v3h-1zM470 82h1v4h-1zM471 79h1v3h-1zM472 80h1v1h-1zM473 81h1v2h-1zM474 83h1v4h-1zM475 87h1v4h-1zM476 91h1v4h-1zM477 94h1v3h-1zM478 89h1v5h-1zM479 86h1v3h-1zM480 86h1v1h-1zM481 86h1v1h-1zM482 86h1v1h-1zM483 84h1v2h-1zM484 80h1v4h-1zM485 77h1v3h-1zM486 73h1v4h-1zM487 71h1v2h-1zM488 70h1v1h-1zM489 69h1v1h-1zM490 69h1v1h-1zM491 70h1v2h-1zM492 72h1v3h-1zM493 75h1v2h-1zM494 74h1v2h-1zM495 73h1v1h-1zM496 71h1v2h-1zM497 69h1v2h-1zM498 67h1v2h-1zM499 66h1v1h-1zM500 67h1v1h-1zM501 68h1v1h-1zM502 69h1v2h-1zM503 71h1v1h-1zM504 70h1v1h-1zM505 69h1v1h-1zM506 70h1v1h-1zM507 71h1v1h-1zM508 71h1v1h-1zM509 71h1v1h-1zM510 71h1v1h-1zM511 71h1v1h-1zM512 72h1v2h-1zM513 73h1v2h-1zM514 71h1v2h-1zM515 69h1v2h-1zM516 71h1v2h-1zM517 73h1v2h-1zM518 74h1v1h-1zM519 74h1v1h-1zM520 72h1v2h-1zM521 71h1v3h-1zM522 74h1v4h-1zM523 78h1v4h-1zM524 82h1v3h-1zM525 85h1v3h-1zM526 88h1v4h-1zM527 92h1v4h-1zM528 96h1v6h-1zM529 102h1v3h-1zM530 97h1v5h-1zM531 94h1v3h-1zM532 92h1v2h-1zM533 91h1v2h-1zM534 93h1v2h-1zM535 95h1v3h-1zM536 98h1v2h-1zM537 98h1v4h-1zM538 92h1v6h-1zM539 89h1v3h-1zM540 91h1v2h-1zM541 93h1v2h-1zM542 95h1v1h-1zM543 96h1v3h-1zM544 99h1v5h-1zM545 103h1v4h-1zM546 95h1v8h-1zM547 91h1v4h-1zM548 92h1v2h-1zM549 92h1v3h-1zM550 87h1v5h-1zM551 84h1v4h-1zM552 88h1v6h-1zM553 94h1v3h-1zM554 96h1v1h-1zM555 96h1v1h-1zM556 97h1v2h-1zM557 97h1v3h-1zM558 92h1v5h-1zM559 89h1v3h-1zM560 90h1v1h-1zM561 91h1v1h-1zM562 89h1v2h-1zM563 88h1v1h-1zM564 87h1v1h-1zM565 86h1v1h-1zM566 86h1v1h-1zM567 84h1v2h-1zM568 82h1v2h-1zM569 79h1v3h-1zM570 77h1v2h-1zM571 76h1v1h-1zM572 75h1v1h-1zM573 74h1v1h-1zM574 74h1v1h-1zM575 73h1v3h-1zM576 69h1v4h-1zM577 66h1v3h-1zM578 68h1v2h-1zM579 69h1v2h-1zM580 67h1v2h-1zM581 65h1v2h-1zM582 65h1v1h-1zM583 64h1v2h-1zM584 66h1v2h-1zM585 68h1v1h-1zM586 68h1v1h-1zM587 67h1v3h-1zM588 62h1v5h-1zM589 59h1v4h-1zM590 63h1v6h-1zM591 69h1v8h-1zM592 77h1v8h-1zM593 85h1v9h-1zM594 94h1v10h-1zM595 104h1v6h-1zM596 103h1v4h-1zM597 100h1v3h-1zM598 96h1v4h-1zM599 91h1v5h-1zM600 83h1v8h-1zM601 79h1v4h-1zM602 81h1v2h-1zM603 83h1v2h-1zM604 85h1v1h-1zM605 85h1v2h-1zM606 83h1v2h-1zM607 78h1v5h-1zM608 70h1v8h-1zM609 66h1v4h-1zM610 68h1v2h-1zM611 70h1v3h-1zM612 73h1v2h-1zM613 74h1v3h-1zM614 69h1v5h-1zM615 66h1v3h-1zM616 68h1v2h-1zM617 70h1v4h-1zM618 74h1v6h-1zM619 80h1v4h-1zM620 84h1v2h-1zM621 85h1v2h-1zM622 81h1v4h-1zM623 77h1v4h-1zM624 73h1v4h-1zM625 70h1v3h-1zM626 66h1v4h-1zM627 64h1v7h-1zM628 71h1v13h-1zM629 84h1v7h-1zM630 90h1v1h-1zM631 89h1v1h-1zM632 90h1v1h-1zM633 91h1v3h-1zM634 94h1v5h-1zM635 99h1v3h-1zM636 98h1v2h-1zM637 97h1v1h-1zM638 95h1v2h-1zM639 91h1v4h-1zM640 85h1v6h-1zM641 80h1v5h-1zM642 76h1v4h-1zM643 74h1v2h-1zM644 76h1v4h-1zM645 80h1v4h-1zM646 84h1v4h-1zM647 88h1v3h-1zM648 87h1v2h-1zM649 86h1v1h-1zM650 87h1v2h-1zM651 89h1v2h-1zM652 91h1v4h-1zM653 94h1v3h-1zM654 89h1v5h-1zM655 86h1v3h-1zM656 89h1v4h-1zM657 93h1v3h-1zM658 93h1v2h-1zM659 92h1v4h-1zM660 96h1v6h-1zM661 102h1v3h-1zM662 100h1v3h-1zM663 98h1v2h-1zM664 97h1v1h-1zM665 96h1v1h-1zM666 96h1v1h-1zM667 97h1v2h-1zM668 99h1v4h-1zM669 101h1v4h-1zM670 95h1v6h-1zM671 91h1v4h-1zM672 89h1v2h-1zM673 88h1v1h-1zM674 89h1v2h-1zM675 91h1v3h-1zM676 94h1v4h-1zM677 98h1v2h-1zM678 97h1v2h-1zM679 96h1v1h-1zM680 96h1v1h-1zM681 96h1v1h-1zM682 96h1v1h-1zM683 96h1v1h-1zM684 95h1v1h-1zM685 93h1v2h-1zM686 91h1v2h-1zM687 89h1v2h-1zM688 90h1v1h-1zM689 91h1v1h-1zM690 91h1v1h-1zM691 91h1v2h-1zM692 93h1v2h-1zM693 94h1v3h-1zM694 89h1v5h-1zM695 86h1v3h-1zM696 87h1v1h-1zM697 88h1v1h-1zM698 89h1v2h-1zM699 90h1v2h-1zM700 86h1v4h-1zM701 84h1v2h-1zM702 84h1v1h-1zM703 84h1v1h-1zM704 84h1v1h-1zM705 84h1v1h-1zM706 84h1v1h-1zM707 84h1v1h-1zM708 85h1v2h-1zM709 87h1v1h-1zM710 88h1v1h-1zM711 85h1v5h-1zM712 75h1v10h-1zM713 68h1v7h-1zM714 63h1v5h-1zM715 59h1v4h-1zM716 56h1v3h-1zM717 52h1v4h-1zM718 48h1v4h-1zM719 46h1v6h-1zM720 52h1v11h-1zM721 63h1v6h-1zM722 63h1v4h-1zM723 61h1v4h-1zM724 65h1v6h-1zM725 71h1v4h-1zM726 72h1v2h-1z" fill="#000" shape-rendering="crispEdges"/>
<g shape-rendering="crispEdges">
<line x1="527.5" y1="2" x2="527.5" y2="468" stroke="#000" stroke-dasharray="3 3"/>
<rect x="0" y="356" width="781" height="1" fill="#fff"/>
<rect x="2.5" y="2.5" width="738" height="353" fill="none" stroke="#000"/>
<rect x="2.5" y="357.5" width="738" height="111" fill="none" stroke="#000"/>
<rect x="3" y="92" width="738" height="2" fill="#008000"/>
<rect x="3" y="204" width="738" height="2" fill="#ff0000"/>
<rect x="3" y="339" width="738" height="3" fill="#ff0000"/>
<rect x="741" y="41" width="2" height="1" fill="#000"/>
<rect x="741" y="79" width="2" height="1" fill="#000"/>
<rect x="741" y="116" width="2" height="1" fill="#000"/>
<rect x="741" y="154" width="2" height="1" fill="#000"/>
<rect x="741" y="192" width="2" height="1" fill="#000"/>
<rect x="741" y="229" width="2" height="1" fill="#000"/>
<rect x="741" y="267" width="2" height="1" fill="#000"/>
<rect x="741" y="304" width="2" height="1" fill="#000"/>
<rect x="741" y="342" width="2" height="1" fill="#000"/>
<rect x="741" y="359" width="1" height="1" fill="#000"/>
<rect x="741" y="424" width="1" height="1" fill="#000"/>
<rect x="741" y="467" width="1" height="1" fill="#000"/>
<rect x="3" y="469" width="1" height="3" fill="#000"/>
<rect x="67" y="469" width="1" height="3" fill="#000"/>
<rect x="131" y="469" width="1" height="3" fill="#000"/>
<rect x="195" y="469" width="1" height="3" fill="#000"/>
<rect x="259" y="469" width="1" height="3" fill="#000"/>
<rect x="323" y="469" width="1" height="3" fill="#000"/>
<rect x="387" y="469" width="1" height="3" fill="#000"/>
<rect x="451" y="469" width="1" height="3" fill="#000"/>
<rect x="515" y="469" width="1" height="3" fill="#000"/>
<rect x="579" y="469" width="1" height="3" fill="#000"/>
<rect x="643" y="469" width="1" height="3" fill="#000"/>
<rect x="707" y="469" width="1" height="3" fill="#000"/>
</g>
<g font-family="'Liberation Sans', sans-serif" font-size="10px" fill="#000" stroke="#000" stroke-width="0.3" paint-order="stroke" text-rendering="geometricPrecision">
<text transform="translate(746.3,45) scale(0.9,1)">157.05</text>
<text transform="translate(746.3,83) scale(0.9,1)">156.90</text>
<text transform="translate(746.3,120) scale(0.9,1)">156.75</text>
<text transform="translate(746.3,158) scale(0.9,1)">156.60</text>
<text transform="translate(746.3,196) scale(0.9,1)">156.45</text>
<text transform="translate(746.3,233) scale(0.9,1)">156.30</text>
<text transform="translate(746.3,271) scale(0.9,1)">156.15</text>
<text transform="translate(746.3,308) scale(0.9,1)">156.00</text>
<text transform="translate(746.3,346) scale(0.9,1)">155.85</text>
<g stroke="none" shape-rendering="crispEdges">
<rect x="742" y="66" width="36" height="11" fill="#000"/>
<rect x="742" y="87" width="36" height="11" fill="#008000"/>
<rect x="742" y="199" width="36" height="11" fill="#ff0000"/>
<rect x="742" y="334" width="36" height="11" fill="#ff0000"/>
</g>
<text transform="translate(746.4,75) scale(0.9,1)" fill="#fff" stroke="#fff">156.93</text>
<text transform="translate(746.4,96) scale(0.9,1)" fill="#fff" stroke="#fff">156.84</text>
<text transform="translate(746.4,208) scale(0.9,1)" fill="#fff" stroke="#fff">156.39</text>
<text transform="translate(746.4,343) scale(0.9,1)" fill="#fff" stroke="#fff">155.86</text>
<text transform="translate(743.7,368) scale(0.95,1)">0.09</text>
<text transform="translate(743.7,428) scale(0.95,1)">0.00</text>
<text transform="translate(743.7,465) scale(0.95,1)">-0.061</text>
<text transform="translate(2,481) scale(0.935,1)">4 Feb 2026</text>
<text transform="translate(66,481) scale(0.935,1)">4 Feb 04:50</text>
<text transform="translate(130,481) scale(0.935,1)">4 Feb 07:30</text>
<text transform="translate(194,481) scale(0.935,1)">4 Feb 10:10</text>
<text transform="translate(258,481) scale(0.935,1)">4 Feb 12:50</text>
<text transform="translate(322,481) scale(0.935,1)">4 Feb 15:30</text>
<text transform="translate(386,481) scale(0.935,1)">4 Feb 18:10</text>
<text transform="translate(450,481) scale(0.935,1)">4 Feb 20:50</text>
<text transform="translate(514,481) scale(0.935,1)">4 Feb 23:30</text>
<text transform="translate(578,481) scale(0.935,1)">5 Feb 02:10</text>
<text transform="translate(642,481) scale(0.935,1)">5 Feb 04:50</text>
<text transform="translate(706,481) scale(0.935,1)">5 Feb 07:30</text>
<text x="18" y="14" textLength="52" lengthAdjust="spacingAndGlyphs">USDJPY,M5</text>
<text x="76" y="14" textLength="121" lengthAdjust="spacingAndGlyphs">156.91 156.95 156.91 156.93</text>
<text x="7" y="370" textLength="118" lengthAdjust="spacingAndGlyphs">MACD(12,26,9) 0.027 0.024</text>
</g>
<path d="M6 9h7v1h-1v1h-1v1h-1v1h-1v-1h-1v-1h-1v-1h-1z" fill="#000" shape-rendering="crispEdges"/>
</svg>
</body></html>
